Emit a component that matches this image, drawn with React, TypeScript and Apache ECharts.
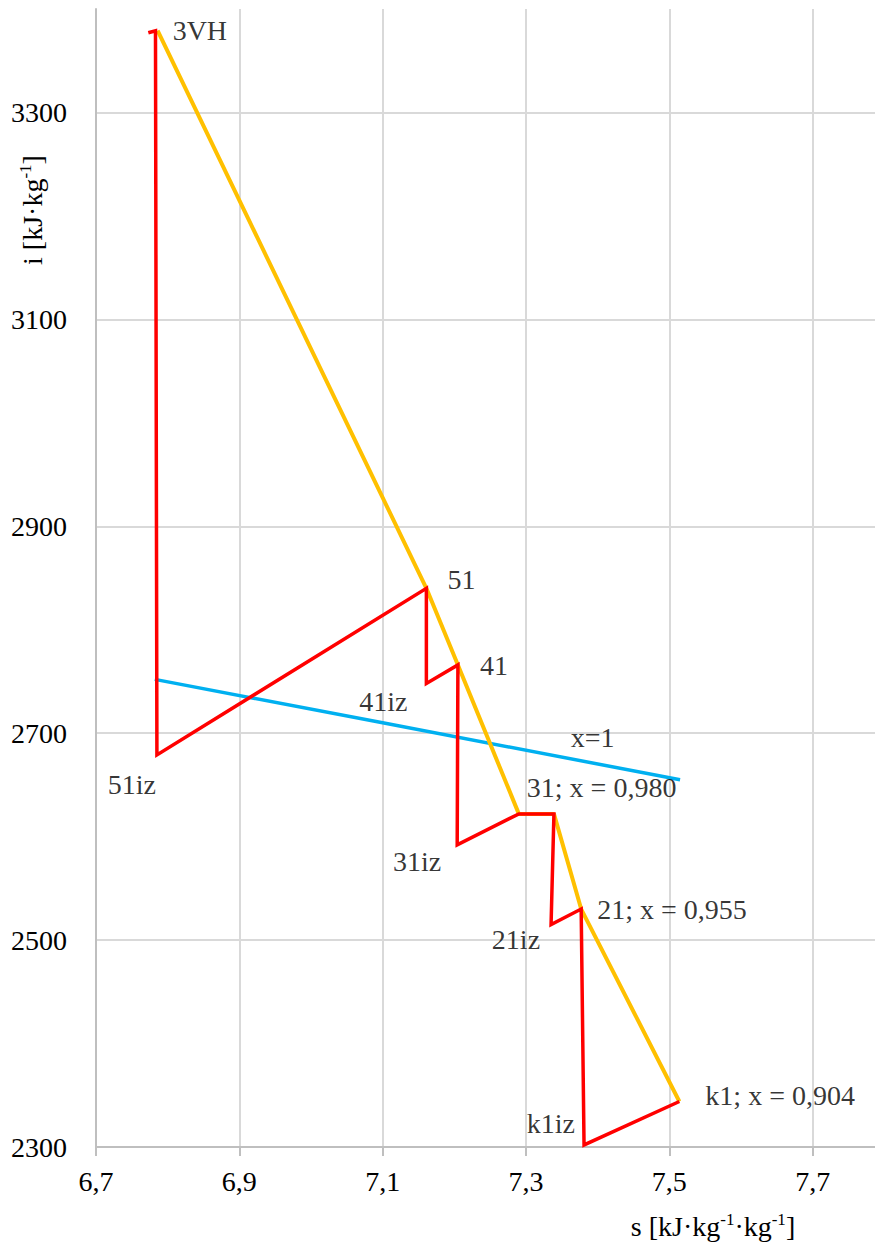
import React, { useEffect, useRef } from "react";
import * as echarts from "echarts";

// Expansion line (red)
const redS = [6.773, 6.783, 6.785, 7.161, 7.161, 7.205, 7.204, 7.290, 7.339, 7.335, 7.377, 7.381, 7.514];
const redI = [3377, 3379, 2679, 2840, 2748, 2766, 2592, 2622, 2622, 2515, 2530, 2302, 2344];

// Real expansion line (yellow)
const yellowS = [6.786, 7.161, 7.205, 7.290, 7.339, 7.377, 7.514];
const yellowI = [3379, 2840, 2766, 2622, 2622, 2530, 2344];

// Saturation line x = 1 (blue)
const blueS = [6.782, 7.100, 7.515];
const blueI = [2752, 2710, 2655];

// Point labels
const labelNames = ["3VH", "51", "41", "41iz", "51iz", "31iz", "31; x = 0,980", "21; x = 0,955", "21iz", "k1; x = 0,904", "k1iz", "x=1"];
const labelS = [6.786, 7.161, 7.205, 7.161, 6.785, 7.204, 7.290, 7.377, 7.335, 7.514, 7.381, 7.393];
const labelI = [3379, 2840, 2766, 2748, 2679, 2592, 2622, 2530, 2515, 2344, 2302, 2671];

// Axis ranges
const xMin = 6.7, xMax = 7.787, xStep = 0.2;
const yMin = 2300, yMax = 3400, yStep = 200;

const FONT = "'Liberation Serif', 'Times New Roman', serif";
const FS = 28;

const labelLayout: Record<string, { align: string; offset: number[] }> = {
  "3VH": { align: "left", offset: [15, 0] },
  "51": { align: "left", offset: [21, -9] },
  "41": { align: "left", offset: [22, 1] },
  "41iz": { align: "right", offset: [-19, 18] },
  "51iz": { align: "right", offset: [-1, 30] },
  "31iz": { align: "right", offset: [-16, 17] },
  "31; x = 0,980": { align: "left", offset: [8, -26] },
  "21; x = 0,955": { align: "left", offset: [16, 0] },
  "21iz": { align: "right", offset: [-11, 15] },
  "k1; x = 0,904": { align: "left", offset: [26, -6] },
  "k1iz": { align: "right", offset: [-9, -21] },
  "x=1": { align: "center", offset: [0, -26] },
};

const zip = (a: number[], b: number[]) => a.map((v, i) => [v, b[i]]);

export default function App() {
  const ref = useRef<HTMLDivElement>(null);
  useEffect(() => {
    if (!ref.current) return;
    const chart = echarts.init(ref.current, undefined, { renderer: "svg" });
    const rich = {
      n: { fontSize: FS, fontFamily: FONT, color: "#000", lineHeight: 31 },
      sup: { fontSize: 17, fontFamily: FONT, color: "#000", lineHeight: 17, verticalAlign: "top" },
    };
    chart.setOption({
      animation: false,
      backgroundColor: "#fff",
      grid: { left: 96, right: 0, top: 9, bottom: 97, containLabel: false },
      xAxis: {
        type: "value",
        min: xMin,
        max: xMax,
        interval: xStep,
        axisLine: { show: true, lineStyle: { color: "#bfbfbf", width: 2 } },
        axisTick: { show: true, length: 9, lineStyle: { color: "#bfbfbf", width: 2 } },
        splitLine: { show: true, showMaxLine: false, showMinLine: false, lineStyle: { color: "#d9d9d9", width: 2 } },
        axisLabel: {
          showMaxLabel: false,
          margin: 20,
          fontSize: FS,
          fontFamily: FONT,
          color: "#000",
          formatter: (v: number) => v.toFixed(1).replace(".", ","),
        },
      },
      yAxis: {
        type: "value",
        min: yMin,
        max: yMax,
        interval: yStep,
        axisLine: { show: true, lineStyle: { color: "#bfbfbf", width: 2 } },
        axisTick: { show: false },
        splitLine: { show: true, showMaxLine: false, showMinLine: false, lineStyle: { color: "#d9d9d9", width: 2 } },
        axisLabel: {
          showMaxLabel: false,
          margin: 29,
          fontSize: FS,
          fontFamily: FONT,
          color: "#000",
          formatter: (v: number) => String(Math.round(v)),
        },
      },
      graphic: [
        {
          type: "text",
          x: 713,
          y: 1226,
          style: {
            text: "{n|s [kJ·kg}{sup|-1}{n|·kg}{sup|-1}{n|]}",
            rich,
            align: "center",
            verticalAlign: "middle",
          },
        },
        {
          type: "text",
          x: 32,
          y: 210,
          rotation: Math.PI / 2,
          style: {
            text: "{n|i [kJ·kg}{sup|-1}{n|]}",
            rich,
            align: "center",
            verticalAlign: "middle",
          },
        },
      ],
      series: [
        {
          type: "line",
          data: zip(blueS, blueI),
          symbol: "none",
          lineStyle: { color: "#00b0f0", width: 3.5 },
          z: 2,
        },
        {
          type: "line",
          data: zip(yellowS, yellowI),
          symbol: "none",
          lineStyle: { color: "#ffc000", width: 4 },
          z: 3,
        },
        {
          type: "line",
          data: zip(redS, redI),
          symbol: "none",
          lineStyle: { color: "#ff0000", width: 3.5, join: "miter" },
          z: 4,
        },
        {
          type: "scatter",
          symbolSize: 1,
          itemStyle: { color: "rgba(0,0,0,0)" },
          z: 5,
          silent: true,
          data: labelNames.map((name, i) => ({
            value: [labelS[i], labelI[i]],
            name,
            label: {
              show: true,
              position: "inside",
              formatter: name,
              fontSize: FS,
              fontFamily: FONT,
              color: "#000",
              align: labelLayout[name].align,
              verticalAlign: "middle",
              offset: labelLayout[name].offset,
            },
          })),
        },
      ],
    });
    return () => chart.dispose();
  }, []);
  return (
    <div
      ref={ref}
      style={{ position: "absolute", left: 0, top: 0, width: 875, height: 1244 }}
    />
  );
}
